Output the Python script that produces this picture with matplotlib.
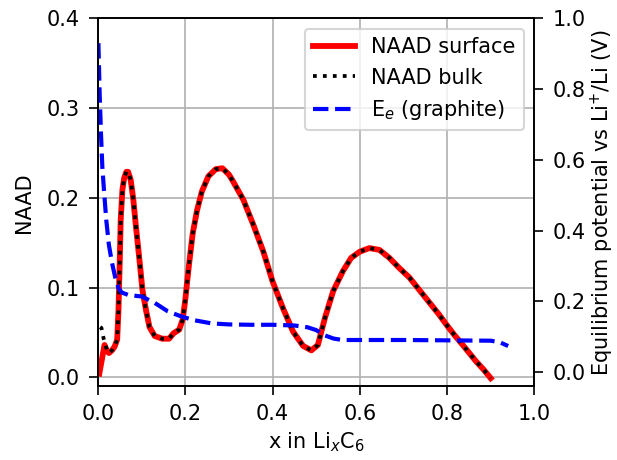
import matplotlib
matplotlib.use("Agg")
import matplotlib.pyplot as plt
import numpy as np

# NAAD at the particle surface vs lithiation x in LixC6
x_surface = [0.003, 0.015, 0.020, 0.025, 0.032, 0.038, 0.044, 0.047, 0.050, 0.052,
             0.056, 0.060, 0.065, 0.069, 0.075, 0.081, 0.087, 0.095, 0.102, 0.110,
             0.118, 0.130, 0.147, 0.163, 0.173, 0.186, 0.194, 0.200, 0.208, 0.217,
             0.227, 0.238, 0.253, 0.270, 0.285, 0.300, 0.310, 0.333, 0.356, 0.379,
             0.400, 0.424, 0.447, 0.470, 0.489, 0.504, 0.520, 0.539, 0.561, 0.580,
             0.600, 0.622, 0.645, 0.668, 0.690, 0.714, 0.737, 0.760, 0.780, 0.798,
             0.817, 0.836, 0.851, 0.866, 0.883, 0.900]
naad_surface = [0.004, 0.036, 0.030, 0.027, 0.030, 0.034, 0.042, 0.075, 0.131, 0.175,
                0.209, 0.222, 0.229, 0.229, 0.220, 0.198, 0.168, 0.131, 0.097, 0.075,
                0.056, 0.046, 0.043, 0.043, 0.049, 0.053, 0.064, 0.086, 0.123, 0.160,
                0.186, 0.207, 0.224, 0.232, 0.233, 0.226, 0.218, 0.198, 0.170, 0.140,
                0.107, 0.077, 0.051, 0.035, 0.030, 0.036, 0.066, 0.096, 0.118, 0.133,
                0.140, 0.144, 0.142, 0.133, 0.122, 0.111, 0.097, 0.083, 0.071, 0.059,
                0.047, 0.036, 0.027, 0.018, 0.009, -0.001]

# bulk NAAD only differs from the surface at the very start
x_bulk_start = [0.005, 0.008, 0.013, 0.020]
naad_bulk_start = [0.056, 0.055, 0.043, 0.031]
x_bulk = x_bulk_start + x_surface[3:]
naad_bulk = naad_bulk_start + naad_surface[3:]

# equilibrium potential of graphite (V vs Li+/Li)
x_ocp = [0.001, 0.004, 0.007, 0.010, 0.014, 0.019, 0.025, 0.032, 0.040, 0.048,
         0.055, 0.070, 0.100, 0.130, 0.160, 0.190, 0.220, 0.260, 0.300, 0.350,
         0.400, 0.450, 0.480, 0.500, 0.520, 0.540, 0.560, 0.600, 0.700, 0.800,
         0.900, 0.920, 0.940]
e_graphite = [0.93, 0.78, 0.67, 0.58, 0.51, 0.43, 0.36, 0.31, 0.265, 0.235,
              0.225, 0.218, 0.214, 0.196, 0.172, 0.158, 0.147, 0.138, 0.135, 0.134,
              0.134, 0.132, 0.127, 0.119, 0.104, 0.095, 0.091, 0.091, 0.091, 0.090,
              0.089, 0.085, 0.074]

DPI = 150
fig = plt.figure(figsize=(617 / DPI, 460 / DPI), dpi=DPI)
ax = fig.add_subplot(111)
fig.subplots_adjust(left=0.1588, right=0.866, top=0.960, bottom=0.1609)

l1, = ax.plot(x_surface, naad_surface, color="red", lw=2.8, label="NAAD surface")
l2, = ax.plot(x_bulk, naad_bulk, color="black", ls=":", lw=1.8, label="NAAD bulk")
ax.set_xlim(0, 1)
ax.set_ylim(-0.0097, 0.4)
ax.set_xticks(np.arange(0, 1.01, 0.2))
ax.set_yticks(np.arange(0, 0.41, 0.1))
ax.set_xlabel("x in Li$_x$C$_6$", labelpad=3)
ax.set_ylabel("NAAD", labelpad=6)
ax.tick_params(length=4.3, pad=4.3)
ax.grid(True)

ax2 = ax.twinx()
l3, = ax2.plot(x_ocp, e_graphite, color="blue", ls="--", lw=2, label="E$_e$ (graphite)")
ax2.set_ylim(-0.039, 1.0)
ax2.set_yticks(np.arange(0, 1.01, 0.2))
ax2.set_ylabel("Equilibrium potential vs Li$^{+}$/Li (V)", labelpad=1.5)
ax2.tick_params(length=4.3, pad=4.3)

ax2.legend(handles=[l1, l2, l3], loc="upper right")

fig.savefig("out.png", dpi=DPI)
plt.close(fig)
